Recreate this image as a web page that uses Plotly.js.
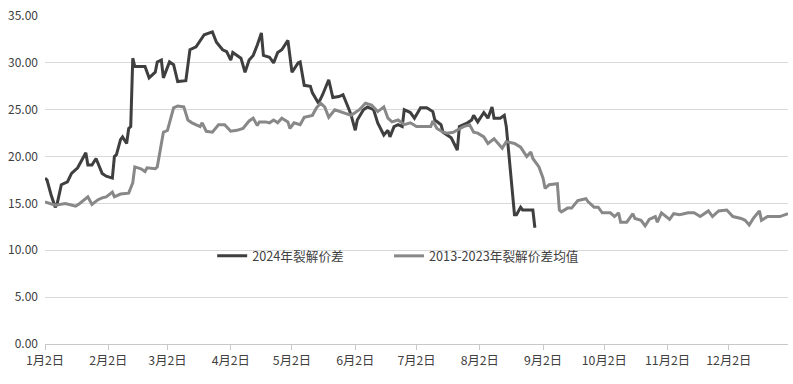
<!DOCTYPE html>
<html>
<head>
<meta charset="utf-8">
<script src="https://cdn.plot.ly/plotly-3.0.1.min.js"></script>
<style>html,body{margin:0;padding:0;background:#fff;}#chart{width:793px;height:384px;}</style>
</head>
<body>
<div id="chart"></div>
<script>
// 2024年裂解价差
const dates2024 = ["2024-01-02","2024-01-03","2024-01-05","2024-01-07","2024-01-08","2024-01-10","2024-01-13","2024-01-15","2024-01-18","2024-01-20","2024-01-22","2024-01-23","2024-01-25","2024-01-27","2024-01-29","2024-01-30","2024-02-01","2024-02-04","2024-02-05","2024-02-06","2024-02-08","2024-02-09","2024-02-11","2024-02-12","2024-02-13","2024-02-14","2024-02-15","2024-02-20","2024-02-22","2024-02-25","2024-02-26","2024-02-28","2024-02-29","2024-03-03","2024-03-05","2024-03-07","2024-03-11","2024-03-12","2024-03-13","2024-03-16","2024-03-18","2024-03-20","2024-03-24","2024-03-26","2024-03-29","2024-03-31","2024-04-02","2024-04-03","2024-04-07","2024-04-09","2024-04-11","2024-04-13","2024-04-15","2024-04-17","2024-04-18","2024-04-21","2024-04-23","2024-04-25","2024-04-27","2024-04-30","2024-05-02","2024-05-05","2024-05-06","2024-05-07","2024-05-08","2024-05-11","2024-05-12","2024-05-15","2024-05-17","2024-05-20","2024-05-22","2024-05-25","2024-05-27","2024-05-30","2024-05-31","2024-06-02","2024-06-03","2024-06-06","2024-06-08","2024-06-11","2024-06-13","2024-06-16","2024-06-18","2024-06-19","2024-06-21","2024-06-23","2024-06-25","2024-06-26","2024-06-29","2024-07-01","2024-07-04","2024-07-07","2024-07-10","2024-07-11","2024-07-14","2024-07-15","2024-07-19","2024-07-22","2024-07-23","2024-07-27","2024-07-29","2024-07-30","2024-08-01","2024-08-04","2024-08-06","2024-08-08","2024-08-09","2024-08-12","2024-08-14","2024-08-15","2024-08-16","2024-08-18","2024-08-19","2024-08-20","2024-08-22","2024-08-23","2024-08-26","2024-08-28","2024-08-29"];
const values2024 = [17.7,17.5,15.9,14.6,15.0,17.0,17.3,18.2,18.8,19.6,20.4,19.1,19.1,19.8,18.6,18.2,17.9,17.7,20.0,20.2,21.8,22.1,21.4,23.0,23.2,30.5,29.6,29.6,28.4,29.0,30.1,30.3,28.4,30.1,29.8,28.0,28.1,30.1,31.4,31.7,32.4,33.0,33.3,32.2,31.4,31.2,30.3,31.1,30.5,29.0,30.3,30.8,31.9,33.2,30.8,30.6,30.0,31.1,31.4,32.4,29.0,30.0,30.1,29.0,27.6,27.5,26.8,25.7,26.6,28.2,26.3,26.4,26.6,25.0,24.4,22.8,23.9,25.0,25.3,25.0,23.6,22.3,22.8,22.1,23.2,23.4,23.2,25.0,24.7,24.1,25.2,25.2,24.8,23.9,23.4,22.6,22.0,20.7,23.2,23.6,23.9,24.4,23.7,24.7,24.1,25.3,24.1,24.1,24.4,23.2,20.7,15.4,13.8,13.8,14.6,14.3,14.3,14.3,12.4];

// 2013-2023年裂解价差均值
const datesAvg = ["2024-01-02","2024-01-07","2024-01-12","2024-01-17","2024-01-19","2024-01-23","2024-01-25","2024-01-28","2024-01-30","2024-02-01","2024-02-04","2024-02-05","2024-02-08","2024-02-12","2024-02-14","2024-02-15","2024-02-18","2024-02-20","2024-02-21","2024-02-25","2024-02-26","2024-02-27","2024-02-29","2024-03-02","2024-03-04","2024-03-05","2024-03-07","2024-03-10","2024-03-12","2024-03-14","2024-03-18","2024-03-19","2024-03-21","2024-03-24","2024-03-27","2024-03-30","2024-04-02","2024-04-05","2024-04-08","2024-04-11","2024-04-13","2024-04-15","2024-04-16","2024-04-19","2024-04-21","2024-04-23","2024-04-25","2024-04-27","2024-04-30","2024-05-01","2024-05-03","2024-05-06","2024-05-08","2024-05-12","2024-05-14","2024-05-16","2024-05-18","2024-05-20","2024-05-23","2024-05-27","2024-05-31","2024-06-04","2024-06-07","2024-06-10","2024-06-13","2024-06-16","2024-06-18","2024-06-20","2024-06-23","2024-06-26","2024-06-29","2024-07-02","2024-07-05","2024-07-09","2024-07-10","2024-07-12","2024-07-15","2024-07-17","2024-07-20","2024-07-23","2024-07-25","2024-07-28","2024-07-30","2024-08-01","2024-08-04","2024-08-06","2024-08-09","2024-08-11","2024-08-13","2024-08-15","2024-08-19","2024-08-22","2024-08-23","2024-08-25","2024-08-27","2024-08-28","2024-08-31","2024-09-02","2024-09-03","2024-09-05","2024-09-09","2024-09-10","2024-09-11","2024-09-14","2024-09-16","2024-09-17","2024-09-19","2024-09-23","2024-09-24","2024-09-27","2024-09-29","2024-10-01","2024-10-05","2024-10-07","2024-10-09","2024-10-10","2024-10-13","2024-10-16","2024-10-17","2024-10-20","2024-10-22","2024-10-24","2024-10-27","2024-10-28","2024-10-30","2024-11-03","2024-11-05","2024-11-08","2024-11-12","2024-11-15","2024-11-18","2024-11-22","2024-11-24","2024-11-27","2024-12-01","2024-12-04","2024-12-08","2024-12-10","2024-12-12","2024-12-14","2024-12-17","2024-12-18","2024-12-21","2024-12-24","2024-12-27","2024-12-31"];
const valuesAvg = [15.15,14.8,15.0,14.7,15.0,15.7,14.9,15.4,15.6,15.7,16.2,15.7,16.0,16.1,17.2,18.9,18.7,18.4,18.8,18.7,18.9,20.0,22.6,22.8,24.4,25.2,25.4,25.3,23.9,23.6,23.2,23.6,22.7,22.6,23.4,23.4,22.7,22.8,23.0,23.8,24.1,23.3,23.7,23.7,23.6,23.9,23.6,24.1,23.7,23.0,23.6,23.4,24.2,24.4,25.2,25.7,25.3,24.2,25.0,24.7,24.4,25.0,25.7,25.5,24.8,25.3,24.1,23.7,23.9,23.4,23.6,23.2,23.2,23.2,23.8,23.0,22.6,22.5,22.6,23.0,23.2,23.4,22.6,22.5,22.1,21.4,21.9,21.4,20.9,21.6,21.4,21.0,20.7,20.0,20.5,19.8,18.9,17.7,16.6,17.0,17.1,14.3,14.1,14.5,14.5,14.8,15.3,15.5,15.2,14.6,14.6,14.0,14.0,13.6,14.0,13.0,13.0,13.9,13.4,13.2,12.6,13.3,13.6,13.0,14.0,13.3,13.9,13.8,14.0,14.0,13.6,14.2,13.6,14.2,14.3,13.6,13.4,13.2,12.7,13.4,14.2,13.2,13.6,13.6,13.6,13.9];

const tickDates = ["2024-01-02","2024-02-02","2024-03-02","2024-04-02","2024-05-02","2024-06-02","2024-07-02","2024-08-02","2024-09-02","2024-10-02","2024-11-02","2024-12-02"];
const tickLabels = ["1月2日","2月2日","3月2日","4月2日","5月2日","6月2日","7月2日","8月2日","9月2日","10月2日","11月2日","12月2日"];
const yTicks = [0,5,10,15,20,25,30,35];

const font = "'Noto Sans CJK SC', 'Noto Sans', sans-serif";

const traces = [
  {x: dates2024, y: values2024, name: "2024年裂解价差", type: "scatter", mode: "lines",
   line: {color: "#3f3f3f", width: 3}, legend: "legend"},
  {x: datesAvg, y: valuesAvg, name: "2013-2023年裂解价差均值", type: "scatter", mode: "lines",
   line: {color: "#888888", width: 3}, legend: "legend2"}
];

const legendBase = {orientation: "h", y: 0.268, xanchor: "left", yanchor: "middle",
  bgcolor: "rgba(0,0,0,0)", font: {family: font, size: 12.7, color: "#404040"},
  itemwidth: 30, tracegroupgap: 0};

const layout = {
  width: 793, height: 384,
  margin: {l: 45, r: 5, t: 16, b: 40},
  paper_bgcolor: "#ffffff", plot_bgcolor: "#ffffff",
  font: {family: font, size: 12, color: "#404040"},
  showlegend: true,
  legend: Object.assign({}, legendBase, {x: 0.225}),
  legend2: Object.assign({}, legendBase, {x: 0.463}),
  xaxis: {type: "date", range: ["2024-01-02", "2024-12-31"],
          tickmode: "array", tickvals: tickDates, ticktext: tickLabels,
          showgrid: false, zeroline: false, showline: true, linecolor: "#c8c8c8", linewidth: 1,
          ticks: "outside", ticklen: 5, tickcolor: "#c8c8c8", tickangle: 0,
          tickfont: {family: font, size: 12.3, color: "#404040"}, fixedrange: true},
  yaxis: {range: [0, 35], tickmode: "array", tickvals: yTicks, tickformat: ".2f",
          showgrid: true, gridcolor: "#d9d9d9", gridwidth: 1, zeroline: false, showline: false,
          ticks: "", ticklabelstandoff: 6,
          tickfont: {family: font, size: 12, color: "#404040"}, fixedrange: true}
};

Plotly.newPlot("chart", traces, layout, {displayModeBar: false, staticPlot: true});
</script>
</body>
</html>
